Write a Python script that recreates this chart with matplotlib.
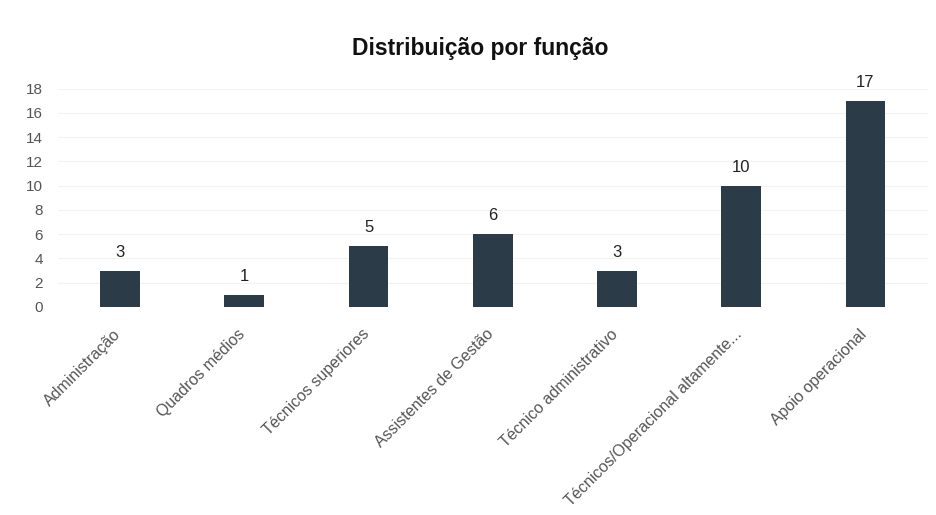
import matplotlib.pyplot as plt
import matplotlib.transforms as mtransforms

plt.rcParams['font.family'] = ['Liberation Sans', 'DejaVu Sans']

# Data
categories = ['Administração', 'Quadros médios', 'Técnicos superiores',
              'Assistentes de Gestão', 'Técnico administrativo',
              'Técnicos/Operacional altamente...', 'Apoio operacional']
values = [3, 1, 5, 6, 3, 10, 17]
y_ticks = [0, 2, 4, 6, 8, 10, 12, 14, 16, 18]

bar_color = '#2c3b48'

fig = plt.figure(figsize=(9.36, 5.15), dpi=100)
ax = fig.add_axes([0.062, 0.404, 0.929, 0.424])

x = range(len(categories))
bars = ax.bar(x, values, width=0.32, color=bar_color, zorder=3)

for b, v in zip(bars, values):
    ax.text(b.get_x() + b.get_width() / 2, v + 0.9, str(v),
            ha='center', va='bottom', fontsize=12, color='#222222')

ax.set_xlim(-0.5, len(categories) - 0.5)
ax.set_ylim(0, 18)
ax.set_yticks(y_ticks)
ax.set_xticks(list(x))
ax.set_xticklabels(categories, rotation=45, ha='right', rotation_mode='anchor',
                   fontsize=11.5, color='#555555')
ax.tick_params(axis='y', labelsize=11, labelcolor='#555555', length=0, pad=11)
ax.tick_params(axis='x', length=0, pad=14)

# nudge rotated labels so their ends sit under the bar centres
shift = mtransforms.ScaledTranslation(-5 / 72, 0, fig.dpi_scale_trans)
for lbl in ax.get_xticklabels():
    lbl.set_transform(lbl.get_transform() + shift)

ax.grid(axis='y', color='#f2f2f2', linewidth=0.8, zorder=0)
for s in ax.spines.values():
    s.set_visible(False)

fig.text(0.513, 0.905, 'Distribuição por função', ha='center', va='center',
         fontsize=16.5, fontweight='bold', color='#111111')

fig.savefig('out.png', dpi=100)
